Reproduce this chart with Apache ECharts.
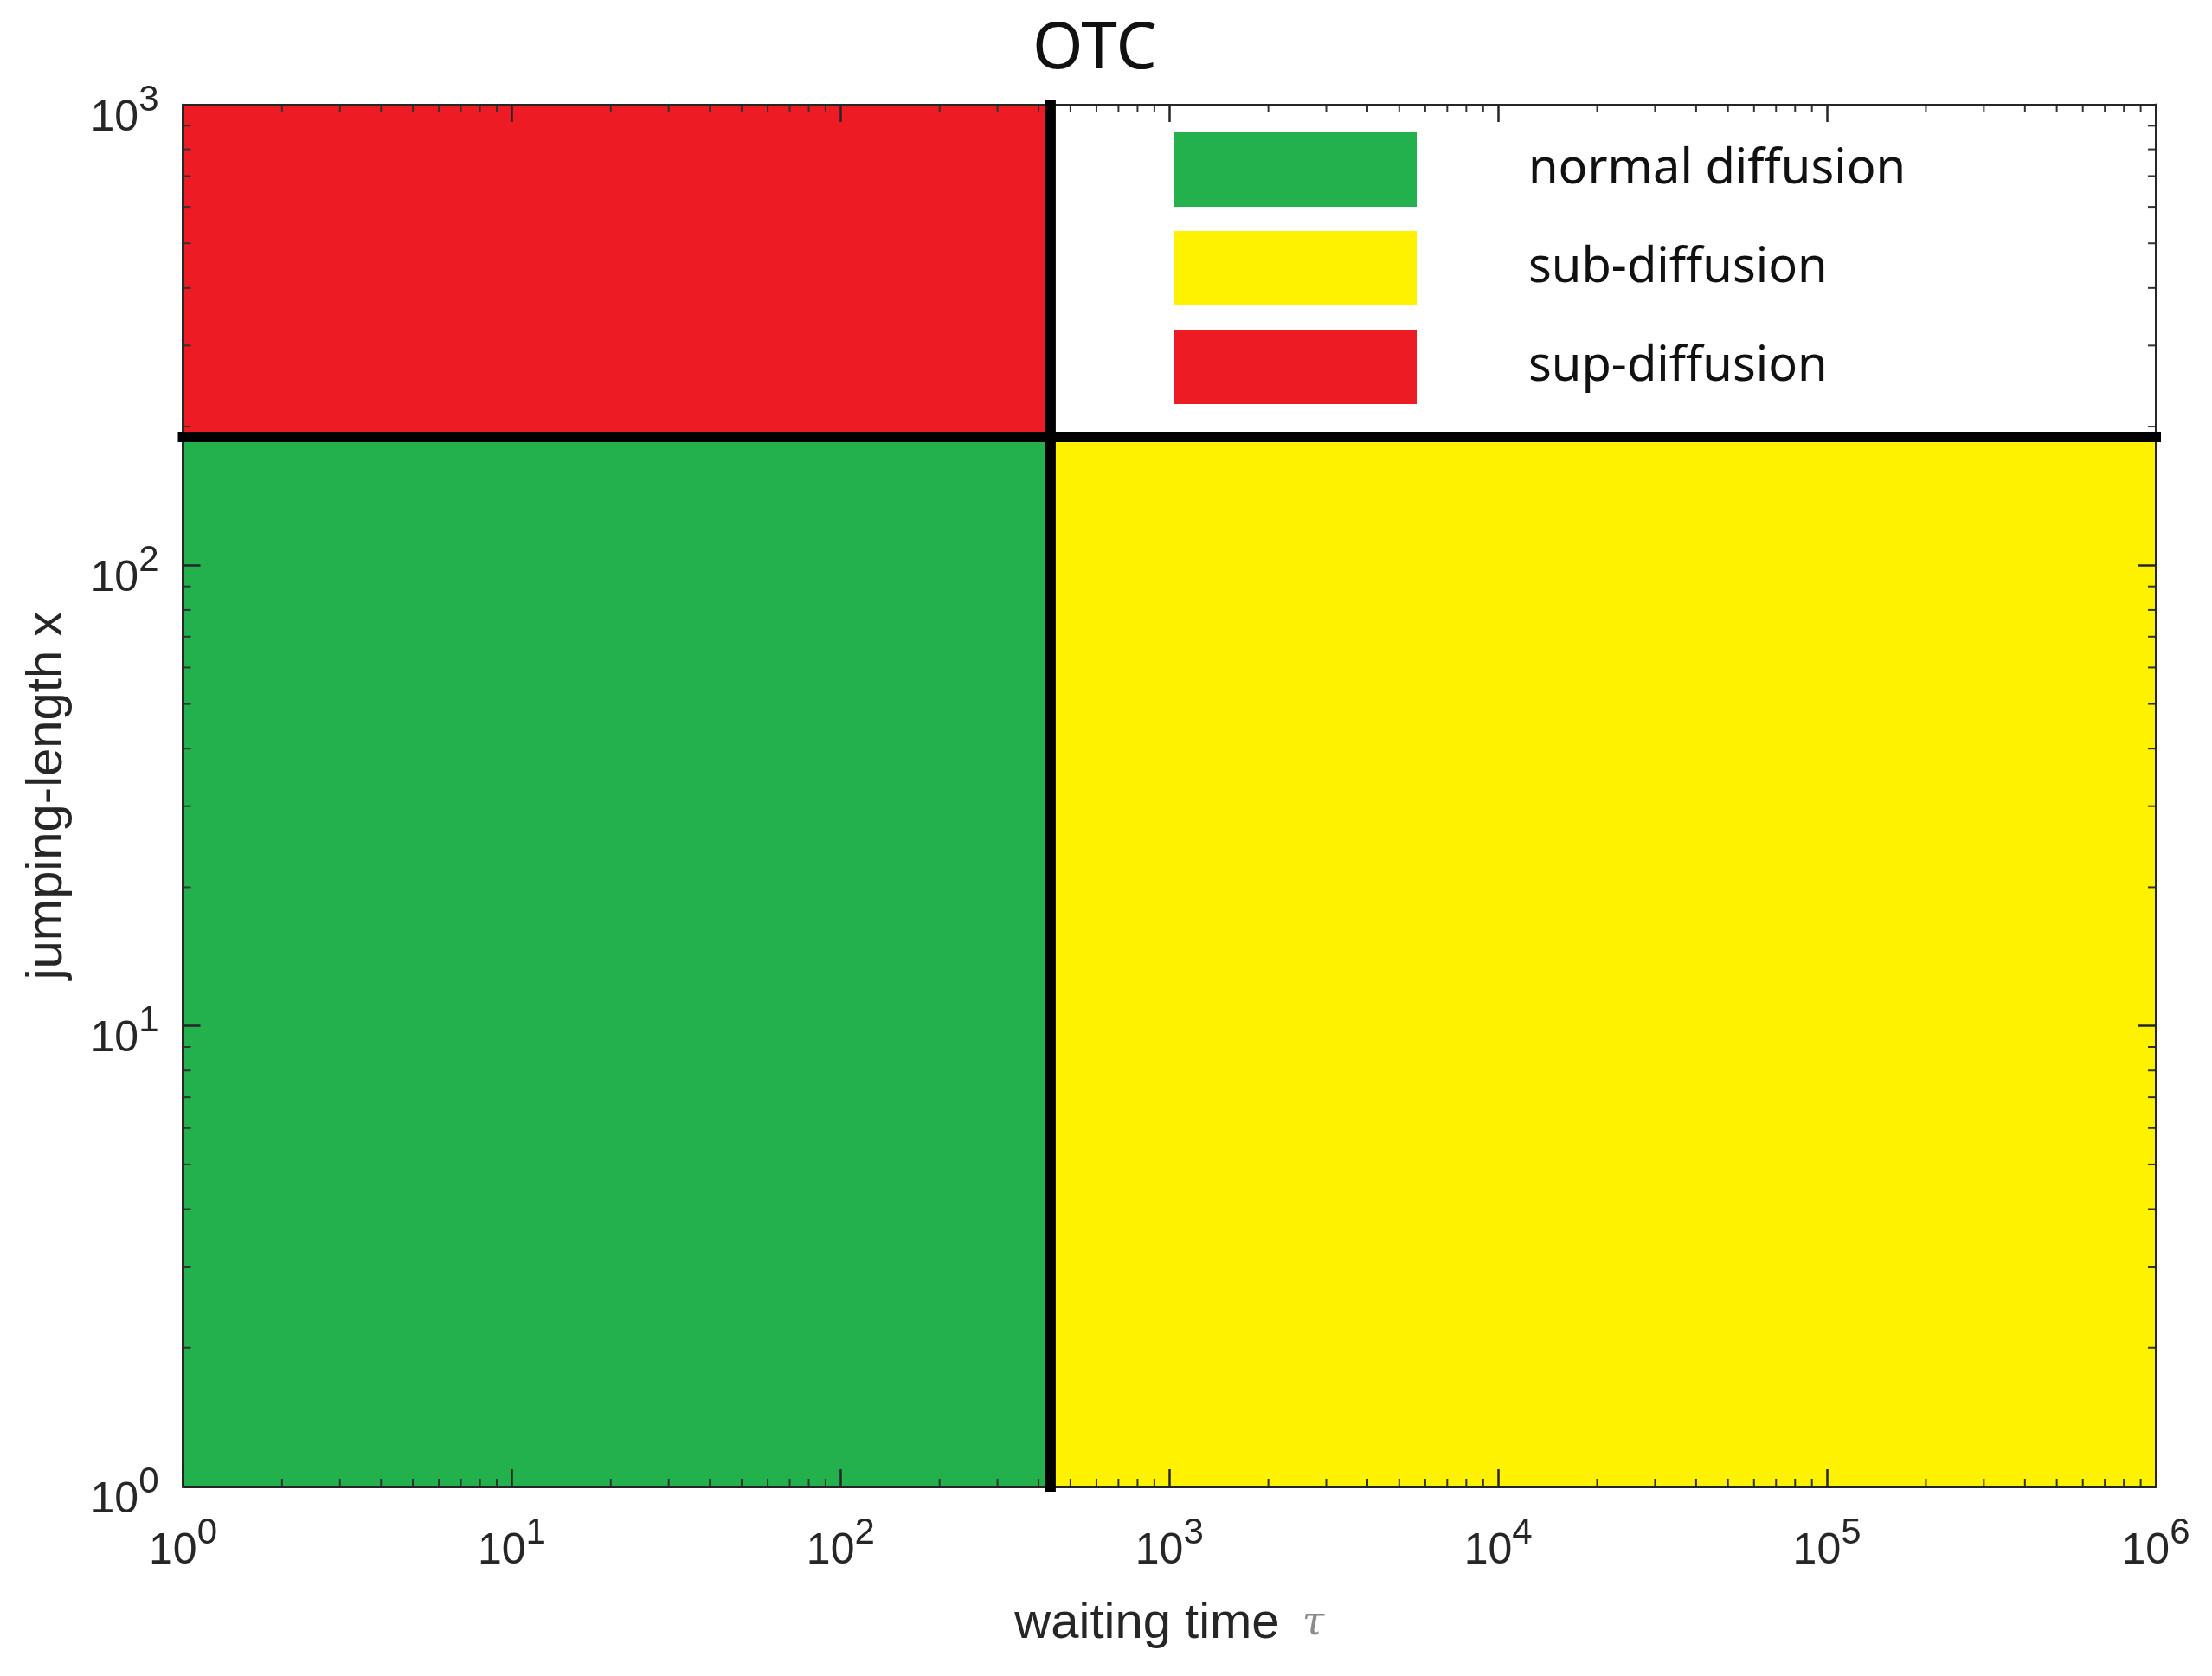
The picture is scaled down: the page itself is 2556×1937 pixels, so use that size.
<!DOCTYPE html>
<html>
<head>
<meta charset="utf-8">
<script src="https://cdn.jsdelivr.net/npm/echarts@6/dist/echarts.min.js"></script>
<style>
html,body{margin:0;padding:0;background:#fff;}
#chart{width:2556px;height:1937px;}
</style>
</head>
<body>
<div id="chart"></div>
<script>
// ---- data ----
const titleText = 'OTC';
const tauRange = [1, 1000000];      // waiting time axis (log)
const lengthRange = [1, 1000];      // jumping length axis (log)
const tauSplit = 435;               // vertical boundary
const lengthSplit = 190;            // horizontal boundary
const regionNames = ['normal diffusion', 'sub-diffusion', 'sup-diffusion'];
const regionColors = ['#22B14C', '#FFF200', '#ED1C24'];
// each region: [tau0, x0, tau1, x1]
const normalRegion = [[1, 1, 435, 190]];
const subRegion = [[435, 1, 1000000, 190]];
const supRegion = [[1, 190, 435, 1000]];
const verticalBoundary = [[435, 1], [435, 1000]];
const horizontalBoundary = [[1, 190], [1000000, 190]];
const tauExponents = [0, 1, 2, 3, 4, 5, 6];
const lengthExponents = [0, 1, 2, 3];
const minorMultipliers = [2, 3, 4, 5, 6, 7, 8, 9];
const tauDecades = [1, 10, 100, 1000, 10000, 100000];
const lengthDecades = [1, 10, 100];

// minor tick positions (axis decoration)
const minorTickData = [];
tauDecades.forEach(d => minorMultipliers.forEach(m => minorTickData.push([d * m, lengthRange[0], 0])));
lengthDecades.forEach(d => minorMultipliers.forEach(m => minorTickData.push([tauRange[0], d * m, 1])));

const axisColor = '#262626';
const labelFont = 'Liberation Sans';
const textFont = 'Noto Sans';

function expLabel(list) {
  return function (v) {
    const e = Math.round(Math.log10(v));
    const idx = list.indexOf(e);
    return '{b|10}{s|' + (idx >= 0 ? list[idx] : e) + '}';
  };
}
const labelRich = {
  b: { fontSize: 50, lineHeight: 67, verticalAlign: 'bottom', fontFamily: labelFont, color: axisColor },
  s: { fontSize: 42, lineHeight: 44, verticalAlign: 'top', fontFamily: labelFont, color: axisColor }
};

function renderRegion(params, api) {
  const p0 = api.coord([api.value(0), api.value(1)]);
  const p1 = api.coord([api.value(2), api.value(3)]);
  return {
    type: 'rect',
    shape: {
      x: Math.min(p0[0], p1[0]), y: Math.min(p0[1], p1[1]),
      width: Math.abs(p1[0] - p0[0]), height: Math.abs(p1[1] - p0[1])
    },
    style: { fill: api.visual('color') }
  };
}

function renderMinorTick(params, api) {
  const cs = params.coordSys;
  const kind = api.value(2);
  const p = api.coord([api.value(0), api.value(1)]);
  const L = 9;
  const st = { stroke: '#333', lineWidth: 2 };
  if (kind === 0) {
    const x = p[0];
    return { type: 'group', children: [
      { type: 'line', shape: { x1: x, y1: cs.y + cs.height, x2: x, y2: cs.y + cs.height - L }, style: st },
      { type: 'line', shape: { x1: x, y1: cs.y, x2: x, y2: cs.y + L }, style: st }
    ] };
  }
  const y = p[1];
  return { type: 'group', children: [
    { type: 'line', shape: { x1: cs.x, y1: y, x2: cs.x + L, y2: y }, style: st },
    { type: 'line', shape: { x1: cs.x + cs.width, y1: y, x2: cs.x + cs.width - L, y2: y }, style: st }
  ] };
}

function regionSeries(name, color, data) {
  return {
    name: name, type: 'custom', renderItem: renderRegion, data: data,
    encode: { x: [0, 2], y: [1, 3] }, itemStyle: { color: color }, z: 2, silent: true
  };
}

const baseX = {
  type: 'log', logBase: 10, min: tauRange[0], max: tauRange[1], z: 3,
  axisLine: { show: true, lineStyle: { color: axisColor, width: 3 } },
  axisTick: { show: true, inside: true, length: 20, lineStyle: { color: axisColor, width: 2.5 } },
  splitLine: { show: false }, minorTick: { show: false }
};
const baseY = {
  type: 'log', logBase: 10, min: lengthRange[0], max: lengthRange[1], z: 3,
  axisLine: { show: true, lineStyle: { color: axisColor, width: 3 } },
  axisTick: { show: true, inside: true, length: 20, lineStyle: { color: axisColor, width: 2.5 } },
  splitLine: { show: false }, minorTick: { show: false }
};

const option = {
  backgroundColor: '#fff',
  animation: false,
  title: {
    text: titleText, left: 1260, top: 15, textAlign: 'center',
    textStyle: { fontFamily: textFont, fontSize: 75, fontWeight: 'normal', color: '#111' }
  },
  legend: {
    data: regionNames, orient: 'vertical', left: 1352, top: 148,
    itemWidth: 280, itemHeight: 86, itemGap: 28, icon: 'rect', selectedMode: false,
    textStyle: { fontFamily: textFont, fontSize: 56, color: '#111', padding: [0, 0, 0, 124] }
  },
  grid: { left: 211.5, right: 65, top: 121, bottom: 219 },
  xAxis: [
    Object.assign({}, baseX, {
      position: 'bottom',
      name: 'waiting time {t|τ}', nameLocation: 'middle', nameGap: 130,
      nameTextStyle: { fontFamily: labelFont, fontSize: 58, color: axisColor,
        rich: { t: { fontFamily: 'DejaVu Serif', fontStyle: 'italic', fontSize: 46, color: '#8a8a8a', padding: [0, 0, 0, 10] } } },
      axisLabel: { show: true, margin: 33, formatter: expLabel(tauExponents), rich: labelRich,
        showMinLabel: true, showMaxLabel: true, hideOverlap: false }
    }),
    Object.assign({}, baseX, { position: 'top', axisLabel: { show: false } })
  ],
  yAxis: [
    Object.assign({}, baseY, {
      position: 'left',
      name: 'jumping-length x', nameLocation: 'middle', nameGap: 128,
      nameTextStyle: { fontFamily: labelFont, fontSize: 58, color: axisColor },
      axisLabel: { show: true, margin: 28, formatter: expLabel(lengthExponents), rich: labelRich,
        padding: [15, 0, 0, 0], showMinLabel: true, showMaxLabel: true, hideOverlap: false }
    }),
    Object.assign({}, baseY, { position: 'right', axisLabel: { show: false } })
  ],
  series: [
    regionSeries(regionNames[0], regionColors[0], normalRegion),
    regionSeries(regionNames[1], regionColors[1], subRegion),
    regionSeries(regionNames[2], regionColors[2], supRegion),
    {
      name: 'minor ticks', type: 'custom', renderItem: renderMinorTick, data: minorTickData,
      encode: { x: 0, y: 1 }, z: 3, silent: true, clip: false
    },
    {
      name: 'tau boundary', type: 'line', data: verticalBoundary, symbol: 'none', z: 5, silent: true, clip: false,
      lineStyle: { color: '#000', width: 12, cap: 'square' }
    },
    {
      name: 'length boundary', type: 'line', data: horizontalBoundary, symbol: 'none', z: 5, silent: true, clip: false,
      lineStyle: { color: '#000', width: 12, cap: 'square' }
    }
  ]
};

const chart = echarts.init(document.getElementById('chart'), null, { renderer: 'canvas' });
chart.setOption(option);
</script>
</body>
</html>
